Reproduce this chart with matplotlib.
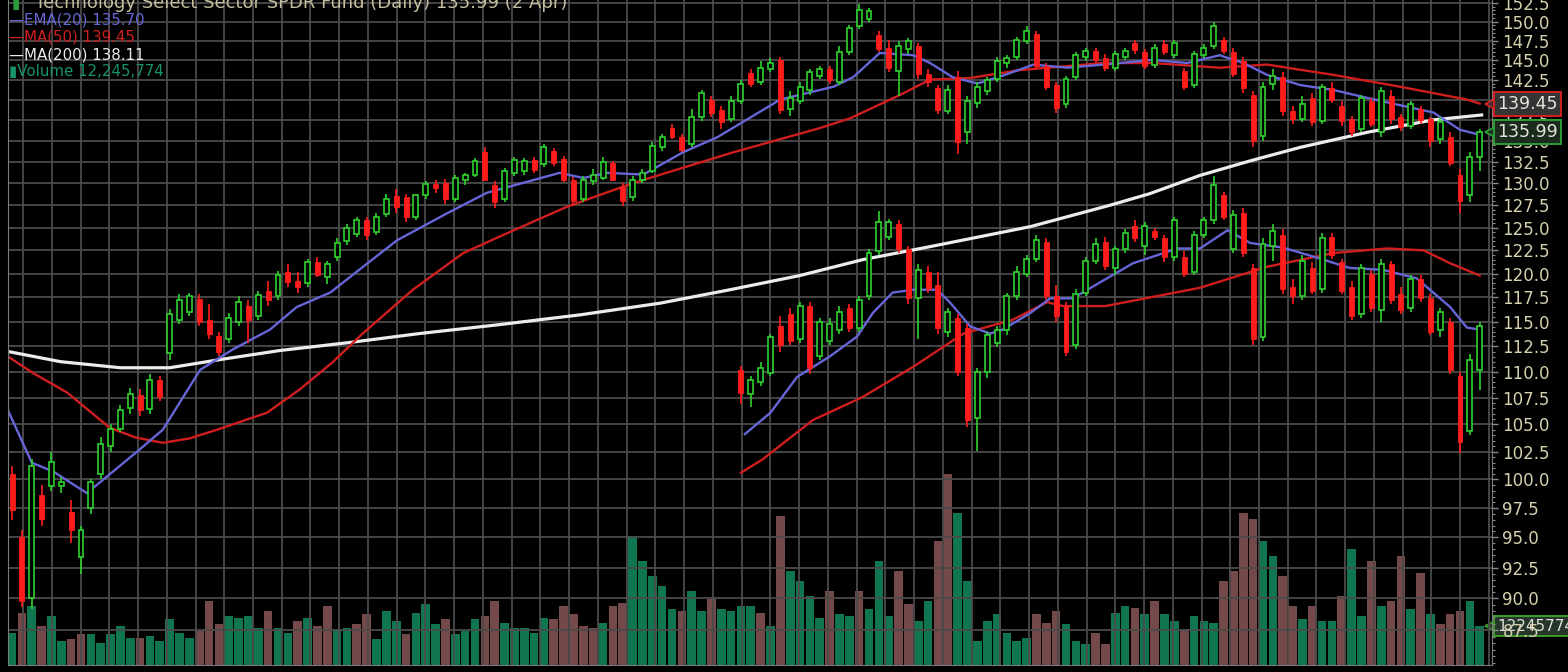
import numpy as np
import matplotlib
matplotlib.use('Agg')
import matplotlib.pyplot as plt
from matplotlib.ticker import FixedLocator, FormatStrFormatter, NullFormatter
from matplotlib.transforms import blended_transform_factory

# ---- main (zoomed-out) price series, one entry per trading day ----
a_open = [100.5, 95.0, 90.0, 98.6, 99.4, 99.4, 97.2, 93.4, 97.5, 100.5,
          103.0, 104.6, 106.5, 107.8, 106.4, 109.2, 111.9, 115.2, 116.0, 117.3,
          115.2, 113.5, 113.2, 115.0, 116.6, 115.6, 118.2, 117.6, 120.2, 119.2,
          119.0, 121.2, 119.6, 121.8, 123.5, 124.3, 125.8, 124.5, 126.5, 128.5,
          128.4, 126.2, 128.6, 129.9, 130.0, 128.2, 130.4, 131.0, 133.6, 129.8,
          128.2, 131.2, 131.4, 132.7, 132.2, 133.8, 132.8, 130.4, 128.2, 130.2,
          130.6, 132.3, 129.6, 128.4, 130.4, 131.4, 134.2, 136.5, 135.4, 134.6,
          137.8, 140.0, 138.7, 137.6, 139.8, 143.3, 142.2, 143.8, 145.0, 138.8,
          139.8, 141.2, 143.0, 143.8, 142.2, 146.0, 149.4, 150.4, 148.2, 146.6,
          143.6, 146.4, 146.8, 143.2, 141.4, 138.6, 142.8, 136.0, 139.6, 141.0,
          142.6, 144.6, 145.4, 147.4, 148.4, 144.2, 141.8, 139.4, 142.8, 145.4,
          146.2, 145.2, 144.0, 145.4, 147.2, 146.0, 144.4, 147.0, 145.6, 143.6,
          141.8, 145.6, 146.8, 147.6, 146.0, 144.8, 140.6, 135.6, 142.0, 142.8,
          138.6, 137.6, 140.2, 137.4, 141.4, 139.2, 137.6, 136.4, 139.8, 136.0,
          140.4, 137.8, 136.8, 138.8, 137.6, 135.2, 135.4, 131.0, 128.6, 133.0]
a_high = [101.2, 95.6, 101.8, 99.5, 102.5, 100.2, 98.2, 96.0, 100.0, 103.8,
          105.0, 106.8, 108.4, 108.3, 109.8, 109.6, 116.3, 117.8, 118.0, 117.9,
          116.8, 114.0, 115.9, 117.6, 117.2, 118.2, 119.2, 120.3, 121.0, 120.2,
          121.6, 121.8, 121.4, 123.8, 125.4, 126.2, 126.2, 126.6, 128.8, 129.3,
          128.8, 128.8, 130.2, 130.4, 130.5, 130.9, 131.2, 132.9, 134.2, 130.3,
          131.8, 133.0, 132.9, 133.1, 134.6, 134.1, 133.2, 130.7, 130.8, 131.6,
          133.0, 132.6, 130.0, 130.8, 131.6, 134.8, 135.8, 137.0, 135.8, 138.8,
          141.2, 140.4, 139.2, 140.4, 142.4, 143.8, 144.8, 145.2, 145.4, 141.0,
          142.2, 143.8, 144.2, 144.2, 146.8, 149.6, 152.4, 151.8, 148.8, 147.6,
          147.4, 147.8, 147.2, 143.8, 141.8, 141.8, 143.6, 140.4, 142.2, 142.8,
          145.4, 145.6, 148.0, 149.4, 148.8, 144.6, 142.2, 143.0, 146.0, 146.6,
          146.6, 145.8, 146.2, 146.6, 147.6, 146.4, 147.0, 147.6, 147.6, 144.0,
          146.2, 147.0, 150.0, 148.0, 146.6, 145.4, 141.0, 142.2, 143.8, 143.4,
          139.2, 140.4, 140.8, 142.0, 142.2, 139.8, 138.0, 140.6, 140.2, 141.6,
          141.2, 138.2, 139.8, 139.2, 137.8, 137.8, 136.0, 131.6, 133.6, 136.4]
a_low = [96.5, 89.3, 89.2, 96.0, 99.0, 98.8, 94.5, 92.0, 97.0, 100.0,
         102.5, 104.3, 106.0, 105.8, 106.0, 107.2, 111.2, 114.8, 115.6, 114.6,
         113.2, 111.6, 112.8, 114.6, 112.8, 115.2, 116.6, 117.2, 118.6, 118.0,
         118.6, 119.6, 118.9, 121.4, 123.1, 124.0, 123.6, 124.2, 126.2, 126.6,
         125.6, 125.8, 128.2, 128.9, 127.6, 127.9, 129.8, 130.7, 130.2, 127.2,
         127.9, 130.8, 131.0, 131.2, 131.9, 132.0, 130.1, 127.4, 127.8, 129.8,
         130.4, 130.2, 127.4, 128.0, 130.0, 131.2, 133.8, 135.2, 133.6, 134.2,
         137.4, 137.8, 136.4, 137.2, 139.4, 141.6, 141.8, 143.4, 138.2, 138.0,
         139.4, 140.6, 142.6, 142.0, 141.8, 145.6, 149.0, 150.0, 146.0, 143.4,
         140.4, 145.8, 142.6, 141.6, 138.2, 138.2, 133.4, 134.6, 139.0, 140.6,
         142.2, 144.0, 145.0, 147.0, 143.8, 141.2, 138.4, 139.0, 142.4, 144.8,
         144.6, 143.6, 143.6, 145.0, 145.8, 143.8, 144.0, 145.6, 145.2, 141.2,
         141.4, 145.2, 146.4, 145.8, 142.8, 140.8, 134.2, 135.0, 141.2, 138.0,
         137.0, 137.2, 136.8, 137.0, 139.6, 136.8, 135.6, 136.0, 136.6, 135.4,
         137.0, 136.2, 136.4, 137.0, 134.2, 134.6, 132.0, 126.6, 127.8, 131.4]
a_close = [97.3, 89.8, 101.2, 96.6, 101.6, 99.8, 95.6, 95.6, 99.8, 103.2,
           104.6, 106.3, 107.9, 106.3, 109.2, 107.6, 115.8, 117.2, 117.6, 115.0,
           113.8, 112.0, 115.4, 117.0, 115.2, 117.7, 117.2, 119.8, 119.1, 118.6,
           121.2, 119.9, 121.0, 123.3, 124.9, 125.8, 124.2, 126.2, 128.2, 127.3,
           126.2, 128.6, 129.9, 129.4, 128.2, 130.6, 130.9, 132.6, 130.4, 127.9,
           131.4, 132.7, 132.6, 131.5, 134.2, 132.4, 130.4, 128.0, 130.4, 131.0,
           132.5, 130.4, 128.0, 130.4, 131.2, 134.4, 135.4, 135.4, 133.9, 137.9,
           140.8, 138.3, 137.2, 139.8, 142.0, 142.0, 144.0, 144.6, 138.7, 140.2,
           141.6, 143.4, 143.8, 142.4, 146.0, 149.2, 151.6, 151.4, 146.4, 144.0,
           146.8, 147.4, 143.2, 142.2, 138.7, 141.2, 134.8, 139.8, 141.6, 142.4,
           144.8, 145.2, 147.6, 148.8, 144.2, 141.6, 139.0, 142.6, 145.6, 146.2,
           145.0, 144.0, 145.8, 146.2, 146.3, 144.2, 146.6, 146.0, 147.2, 141.6,
           145.8, 146.6, 149.4, 146.2, 143.2, 141.4, 135.0, 141.6, 143.0, 138.6,
           137.6, 139.4, 137.2, 141.6, 140.0, 137.4, 136.0, 140.2, 137.0, 141.0,
           137.6, 136.6, 139.4, 137.5, 135.0, 137.2, 132.4, 128.0, 133.0, 135.99]

# ---- second (rescaled) copy of the last six months, starts at day 74 ----
b_start = 74
b_open = [110.2, 107.9, 109.0, 109.9, 114.6, 115.8, 113.2, 116.6, 111.6, 113.0,
          114.2, 116.4, 114.4, 117.6, 122.4, 124.0, 125.4, 122.6, 117.4, 120.2,
          118.8, 114.0, 115.4, 114.4, 105.6, 110.0, 112.8, 114.2, 117.6, 120.0,
          121.6, 123.4, 117.6, 116.6, 112.6, 118.0, 121.4, 123.4, 120.6, 122.6,
          125.2, 123.0, 124.6, 123.8, 121.8, 121.8, 120.2, 124.2, 125.8, 128.6,
          122.6, 126.6, 120.6, 113.4, 123.0, 124.2, 118.6, 117.6, 120.6, 118.4,
          124.0, 121.2, 118.6, 115.8, 120.0, 116.2, 121.0, 117.8, 116.4, 119.4,
          117.4, 114.2, 115.0, 109.6, 104.4, 110.2]
b_high = [110.6, 109.6, 111.0, 113.8, 115.6, 116.4, 117.0, 117.0, 115.4, 115.4,
          116.6, 116.8, 117.6, 122.6, 126.8, 126.0, 125.8, 123.0, 121.0, 120.8,
          120.2, 116.4, 115.8, 114.8, 110.4, 114.0, 114.6, 118.0, 120.8, 122.0,
          124.2, 123.8, 118.8, 117.0, 118.4, 121.8, 123.8, 124.0, 123.0, 124.8,
          125.8, 125.6, 125.0, 124.2, 126.2, 122.4, 124.6, 126.2, 130.8, 129.0,
          127.0, 127.2, 121.0, 123.8, 125.4, 124.8, 119.4, 122.0, 121.2, 124.4,
          124.4, 121.6, 119.2, 121.0, 120.4, 121.6, 121.4, 118.6, 119.8, 119.8,
          117.8, 116.4, 115.4, 110.0, 111.8, 115.0]
b_low = [106.9, 106.6, 108.6, 109.6, 112.0, 112.6, 112.8, 109.8, 111.2, 112.6,
         113.8, 114.0, 114.0, 117.2, 122.0, 123.6, 122.2, 116.8, 113.2, 118.0,
         113.8, 113.4, 109.6, 104.8, 102.6, 109.4, 112.4, 113.6, 117.2, 119.6,
         121.2, 117.2, 115.0, 111.6, 112.2, 117.6, 121.0, 120.4, 119.8, 122.2,
         123.4, 122.0, 123.6, 121.2, 121.4, 119.6, 119.8, 123.8, 125.4, 125.8,
         122.2, 121.8, 112.6, 113.0, 121.4, 117.8, 116.8, 117.2, 117.8, 118.0,
         121.6, 117.8, 115.2, 115.4, 116.0, 115.0, 116.8, 115.8, 116.0, 117.0,
         113.6, 113.4, 109.8, 102.4, 104.0, 108.2]
b_close = [108.0, 109.2, 110.4, 113.4, 112.6, 113.0, 116.6, 110.4, 115.0, 114.8,
           116.0, 114.4, 117.2, 122.2, 125.6, 125.6, 122.6, 117.4, 120.4, 118.4,
           114.4, 116.0, 110.0, 105.4, 110.0, 113.6, 114.2, 117.6, 120.2, 121.6,
           123.6, 117.6, 115.6, 112.0, 117.8, 121.4, 123.2, 120.8, 122.6, 124.4,
           123.8, 125.2, 124.0, 121.8, 125.8, 120.0, 124.2, 125.8, 129.8, 126.2,
           126.4, 122.2, 113.2, 123.2, 124.6, 118.4, 117.6, 121.4, 118.2, 123.8,
           122.0, 118.2, 115.6, 120.6, 116.4, 121.0, 117.2, 116.2, 119.4, 117.4,
           114.0, 116.0, 110.2, 103.4, 111.2, 114.6]

# ---- volume (millions) and up/down flag ----
volume = [10.0, 16.3, 18.5, 12.2, 15.4, 7.5, 8.2, 9.7, 9.7, 6.9,
          9.7, 12.2, 8.5, 8.5, 9.1, 7.5, 14.4, 10.0, 8.5, 10.7,
          20.1, 12.9, 15.4, 14.8, 15.4, 11.6, 17.0, 11.6, 10.0, 13.8,
          14.8, 12.2, 18.5, 11.3, 11.6, 12.9, 16.0, 8.2, 17.0, 13.8,
          9.7, 16.3, 19.2, 12.9, 14.4, 9.7, 10.7, 14.4, 15.4, 20.1,
          13.2, 11.6, 11.6, 10.0, 14.8, 14.4, 18.5, 16.0, 12.2, 11.6,
          13.2, 18.5, 19.5, 40.5, 32.7, 27.9, 24.8, 17.6, 17.0, 23.2,
          17.0, 20.7, 17.6, 17.0, 18.5, 18.5, 16.3, 12.2, 46.8, 29.5,
          26.4, 21.7, 14.8, 23.2, 16.0, 15.4, 23.2, 17.6, 32.7, 15.4,
          29.5, 19.2, 13.8, 20.1, 38.9, 60.0, 47.7, 26.4, 7.5, 13.8,
          16.0, 10.0, 7.5, 8.5, 16.0, 13.2, 17.0, 12.9, 7.5, 6.6,
          10.0, 6.6, 16.3, 18.5, 17.9, 16.0, 20.1, 16.0, 13.8, 11.3,
          15.4, 13.8, 13.2, 26.4, 29.5, 47.7, 45.8, 38.9, 34.2, 27.9,
          18.5, 14.4, 18.5, 13.8, 13.8, 21.7, 36.4, 15.4, 32.7, 18.5,
          20.1, 34.2, 17.6, 28.9, 16.0, 12.9, 16.0, 17.0, 20.1, 12.245774]
vol_up = [1, 0, 1, 0, 1, 1, 0, 0, 1, 1,
          1, 1, 1, 0, 1, 1, 1, 1, 1, 0,
          0, 0, 1, 1, 1, 1, 0, 1, 1, 0,
          1, 0, 0, 1, 1, 0, 0, 1, 1, 1,
          0, 1, 1, 1, 0, 1, 1, 1, 0, 0,
          1, 1, 1, 1, 1, 0, 0, 0, 0, 0,
          1, 0, 0, 1, 1, 1, 1, 1, 0, 1,
          1, 0, 1, 1, 1, 1, 0, 1, 0, 1,
          1, 1, 1, 0, 1, 1, 0, 1, 1, 1,
          0, 0, 1, 1, 0, 0, 1, 1, 1, 1,
          1, 1, 1, 1, 0, 0, 0, 1, 1, 1,
          0, 0, 1, 1, 0, 1, 0, 1, 1, 0,
          1, 1, 1, 0, 0, 0, 0, 1, 1, 0,
          0, 1, 0, 1, 1, 0, 1, 1, 0, 1,
          0, 0, 1, 0, 1, 0, 0, 0, 1, 1]

# ---- moving averages (day, value) ----
ema20_day = [-0.4, 2.0, 4.2, 7.6, 12.7, 15.3, 19.1, 22.4, 26.2, 28.9, 32.3, 35.6,
             39.1, 44.2, 48.2, 55.6, 58.0, 60.4, 64.1, 68.1, 71.6, 78.0, 83.4,
             85.4, 88.1, 91.5, 93.2, 95.5, 98.0, 100.6, 103.7, 107.1, 110.8,
             115.8, 119.3, 122.6, 125.0, 127.4, 130.8, 134.1, 137.6, 140.9,
             144.3, 147.0, 149.0]
ema20_val = [106.3, 101.5, 100.7, 98.8, 102.5, 104.5, 110.2, 112.2, 114.2, 116.5,
             118.0, 120.7, 123.6, 126.6, 128.9, 131.2, 130.6, 131.2, 131.0, 133.6,
             135.4, 140.0, 141.6, 142.8, 145.9, 145.6, 144.6, 142.8, 142.0, 143.0,
             144.4, 144.0, 144.4, 145.0, 144.6, 145.6, 144.6, 143.1, 141.8, 141.2,
             140.2, 139.3, 138.4, 136.3, 135.7]
ma50_day = [-0.4, 2.1, 5.6, 9.9, 12.5, 15.3, 18.0, 20.8, 25.9, 29.2, 32.5, 35.6,
            40.7, 45.8, 49.5, 56.3, 63.0, 73.2, 82.0, 85.1, 90.2, 93.2, 97.3,
            102.3, 110.8, 115.8, 122.6, 127.4, 134.1, 140.9, 147.7, 149.0]
ma50_val = [111.5, 109.9, 108.0, 104.7, 103.8, 103.3, 103.7, 104.5, 106.1, 108.3,
            110.9, 113.8, 118.3, 122.2, 124.0, 127.3, 130.0, 133.6, 136.5, 137.7,
            140.6, 142.5, 142.7, 143.7, 144.6, 144.6, 144.0, 144.4, 143.1, 141.6,
            140.0, 139.5]
ma200_day = [-0.4, 4.9, 11.0, 16.0, 21.1, 27.2, 34.3, 41.4, 49.5, 57.7, 65.8,
             72.9, 80.0, 86.4, 93.2, 103.4, 111.5, 115.5, 120.6, 125.7, 130.8,
             137.6, 144.3, 149.2]
ma200_val = [112.0, 111.0, 110.4, 110.4, 111.2, 112.1, 112.9, 113.8, 114.7, 115.7,
             116.9, 118.3, 119.8, 121.5, 122.9, 125.1, 127.5, 128.8, 130.9, 132.6,
             134.2, 136.0, 137.5, 138.1]
b_ema_day = [74.4, 77.0, 79.7, 83.0, 85.8, 87.4, 89.4, 91.5, 93.9, 95.2, 97.3,
             99.3, 100.6, 103.4, 105.4, 107.7, 110.5, 113.8, 118.3, 120.6, 123.4,
             125.7, 129.0, 132.5, 135.8, 139.2, 142.6, 146.0, 147.7, 149.0]
b_ema_val = [104.1, 106.1, 109.5, 111.5, 113.5, 115.9, 118.0, 118.3, 118.3, 117.0,
             114.5, 113.8, 114.2, 115.9, 117.4, 117.4, 119.1, 121.1, 122.7, 122.7,
             124.7, 123.3, 122.8, 121.7, 120.6, 120.4, 119.5, 116.5, 114.4, 114.2]
b_ma50_day = [74.0, 76.2, 81.3, 86.4, 91.5, 96.6, 101.6, 105.1, 106.7, 111.0,
              120.6, 127.3, 134.1, 139.6, 143.3, 146.0, 149.0]
b_ma50_val = [100.6, 101.8, 105.4, 107.6, 110.5, 113.8, 115.2, 117.0, 116.6, 116.6,
              118.5, 120.7, 122.2, 122.7, 122.5, 121.1, 119.8]

UP = '#2fd12f'
DOWN = '#ff1c1c'
EMA_C = '#6666d6'
MA50_C = '#d01e1e'
MA200_C = '#ececec'
TXT = '#d6d0ae'


def draw_candles(ax, start, o, h, l, c, width=0.5):
    o, h, l, c = map(np.asarray, (o, h, l, c))
    x = np.arange(start, start + len(o))
    up = c >= o
    ax.vlines(x, l, h, colors=np.where(up, UP, DOWN), lw=1.2, zorder=3)
    ax.bar(x[up], (c - o)[up], width, bottom=o[up], facecolor='black',
           edgecolor=UP, lw=1.2, zorder=4)
    ax.bar(x[~up], (o - c)[~up], width, bottom=c[~up], facecolor=DOWN,
           edgecolor=DOWN, lw=0.6, zorder=4)


fig = plt.figure(figsize=(15.68, 6.72), dpi=100, facecolor='black')
rect = [8 / 1568, 7 / 672, 1484 / 1568, 665 / 672]
axv = fig.add_axes(rect, zorder=0)
ax = fig.add_axes(rect, zorder=1)
xlim = (-0.41, 150.25)

# volume underneath
axv.set_facecolor('black')
days = np.arange(len(volume))
vcol = np.where(np.array(vol_up) == 1, '#0f7650', '#74494a')
axv.bar(days, volume, 0.88, color=vcol, zorder=1)
axv.set_xlim(*xlim)
axv.set_ylim(0, 209)
axv.axis('off')

# price
ax.set_facecolor('none')
ax.set_yscale('log')
ax.plot(ma200_day, ma200_val, color=MA200_C, lw=2.3, zorder=2)
ax.plot(ma50_day, ma50_val, color=MA50_C, lw=1.7, zorder=2)
ax.plot(ema20_day, ema20_val, color=EMA_C, lw=1.7, zorder=2)
ax.plot(b_ma50_day, b_ma50_val, color=MA50_C, lw=1.7, zorder=2)
ax.plot(b_ema_day, b_ema_val, color=EMA_C, lw=1.7, zorder=2)
draw_candles(ax, 0, a_open, a_high, a_low, a_close)
draw_candles(ax, b_start, b_open, b_high, b_low, b_close)

ax.set_xlim(*xlim)
ax.set_ylim(84.85, 152.9)
ax.yaxis.set_major_locator(FixedLocator(np.arange(87.5, 153, 2.5)))
ax.yaxis.set_major_formatter(FormatStrFormatter('%.1f'))
ax.yaxis.set_minor_locator(FixedLocator(np.arange(85, 153, 0.5)))
ax.yaxis.set_minor_formatter(NullFormatter())
ax.yaxis.tick_right()
ax.tick_params(axis='y', which='major', colors='#8a8a8a', labelcolor=TXT,
               labelsize=12, length=4, width=1)
ax.tick_params(axis='y', which='minor', colors='#8a8a8a', length=2, width=0.8)
ax.xaxis.set_major_locator(FixedLocator(np.arange(1.12, 150.5, 2.918)))
ax.tick_params(axis='x', which='both', length=0, labelbottom=False)
ax.set_axisbelow(True)
ax.grid(True, which='major', color='#4b4b4b', lw=1.3)
for side in ['left', 'right', 'bottom']:
    ax.spines[side].set_color('#7a7a7a')
ax.spines['top'].set_visible(False)

# last-value tags on the right
tr = blended_transform_factory(ax.transAxes, ax.transData)
for val, txt, fc, ec in [(139.45, '139.45', '#353535', '#d42020'),
                         (135.99, '135.99', '#1c2c1c', '#2f9c3a')]:
    ax.plot([0.9995], [val], marker='<', ms=8, mfc=fc, mec=ec, mew=1.3,
            transform=tr, clip_on=False, zorder=6)
    ax.text(1.0035, val, txt, transform=tr, ha='left', va='center',
            fontsize=12.5, color='#e4e4dc', zorder=7, clip_on=False,
            bbox=dict(boxstyle='square,pad=0.18', fc=fc, ec=ec, lw=1.4))
trv = blended_transform_factory(axv.transAxes, axv.transData)
axv.plot([0.9995], [volume[-1]], marker='<', ms=8, mfc='#26362a', mec='#3d9c2c',
         mew=1.3, transform=trv, clip_on=False, zorder=6)
axv.text(1.0035, volume[-1], '12245774', transform=trv, ha='left', va='center',
         fontsize=11, color='#e0e0d8', zorder=7, clip_on=False,
         bbox=dict(boxstyle='square,pad=0.18', fc='#26362a', ec='#3d9c2c', lw=1.4))

# header and legend
fig.text(12 / 1568, 1 - 8 / 672, '\u25ae', color='#2a9a3a', fontsize=11, va='baseline')
fig.text(35 / 1568, 1 - 8 / 672,
         'Technology Select Sector SPDR Fund (Daily) 135.99 (2 Apr)',
         color='#c4be9e', fontsize=13, va='baseline')
legend_rows = [('\u2014EMA(20) 135.70', EMA_C, 20),
               ('\u2014MA(50) 139.45', MA50_C, 37),
               ('\u2014MA(200) 138.11', MA200_C, 55),
               ('\u25aeVolume 12,245,774', '#17936a', 72)]
for txt, col, ypx in legend_rows:
    fig.text(9 / 1568, 1 - ypx / 672, txt, color=col, fontsize=10.8, va='center')

fig.savefig('out.png', dpi=100, facecolor='black')
